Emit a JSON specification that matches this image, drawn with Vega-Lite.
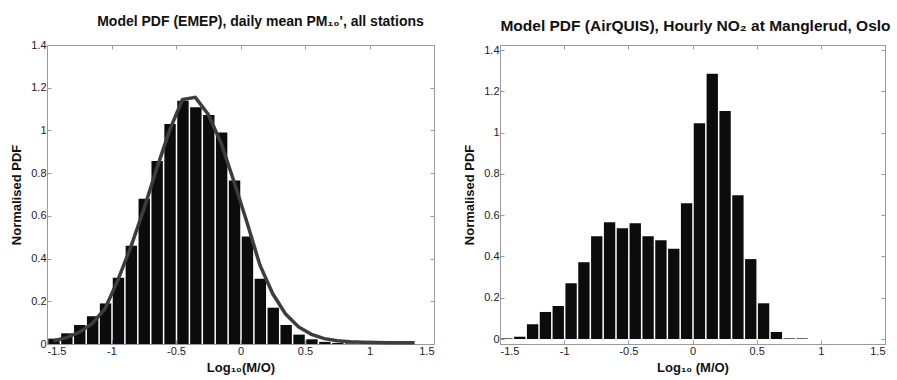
{
  "$schema": "https://vega.github.io/schema/vega-lite/v6.json",
  "padding": {"left": 10, "top": 15, "right": 2, "bottom": 2},
  "bounds": "flush",
  "spacing": 66,
  "config": {
    "font": "Liberation Sans",
    "view": {"stroke": null},
    "axis": {
      "grid": false,
      "domainColor": "#9a9a9a",
      "tickColor": "#9a9a9a",
      "labelColor": "#222222",
      "labelFontSize": 11,
      "labelFont": "Liberation Sans",
      "titleFont": "Liberation Sans",
      "titleFontSize": 13,
      "titleFontWeight": "bold",
      "titleColor": "#111111",
      "tickSize": -4,
      "labelPadding": 5,
      "labelExpr": "'' + datum.value"
    },
    "title": {"font": "Liberation Sans", "fontWeight": "bold", "color": "#111111", "anchor": "middle", "offset": 10}
  },
  "datasets": {
    "emepBars": [
      {"bin_start": -1.5, "bin_end": -1.4, "pdf": 0.025},
      {"bin_start": -1.4, "bin_end": -1.3, "pdf": 0.05},
      {"bin_start": -1.3, "bin_end": -1.2, "pdf": 0.089},
      {"bin_start": -1.2, "bin_end": -1.1, "pdf": 0.13},
      {"bin_start": -1.1, "bin_end": -1.0, "pdf": 0.19},
      {"bin_start": -1.0, "bin_end": -0.9, "pdf": 0.31},
      {"bin_start": -0.9, "bin_end": -0.8, "pdf": 0.46},
      {"bin_start": -0.8, "bin_end": -0.7, "pdf": 0.68},
      {"bin_start": -0.7, "bin_end": -0.6, "pdf": 0.857},
      {"bin_start": -0.6, "bin_end": -0.5, "pdf": 1.03},
      {"bin_start": -0.5, "bin_end": -0.4, "pdf": 1.139},
      {"bin_start": -0.4, "bin_end": -0.3, "pdf": 1.108},
      {"bin_start": -0.3, "bin_end": -0.2, "pdf": 1.072},
      {"bin_start": -0.2, "bin_end": -0.1, "pdf": 0.99},
      {"bin_start": -0.1, "bin_end": 0.0, "pdf": 0.765},
      {"bin_start": 0.0, "bin_end": 0.1, "pdf": 0.503},
      {"bin_start": 0.1, "bin_end": 0.2, "pdf": 0.306},
      {"bin_start": 0.2, "bin_end": 0.3, "pdf": 0.17},
      {"bin_start": 0.3, "bin_end": 0.4, "pdf": 0.089},
      {"bin_start": 0.4, "bin_end": 0.5, "pdf": 0.044},
      {"bin_start": 0.5, "bin_end": 0.6, "pdf": 0.022},
      {"bin_start": 0.6, "bin_end": 0.7, "pdf": 0.01},
      {"bin_start": 0.7, "bin_end": 0.8, "pdf": 0.005},
      {"bin_start": 0.8, "bin_end": 0.9, "pdf": 0.003},
      {"bin_start": 0.9, "bin_end": 1.0, "pdf": 0.002},
      {"bin_start": 1.0, "bin_end": 1.1, "pdf": 0.001}
    ],
    "emepCurve": [
      {"x": -1.45, "pdf": 0.015},
      {"x": -1.35, "pdf": 0.03},
      {"x": -1.25, "pdf": 0.055},
      {"x": -1.15, "pdf": 0.095},
      {"x": -1.05, "pdf": 0.165},
      {"x": -0.95, "pdf": 0.3},
      {"x": -0.85, "pdf": 0.455},
      {"x": -0.75, "pdf": 0.63},
      {"x": -0.65, "pdf": 0.82},
      {"x": -0.55, "pdf": 1.0},
      {"x": -0.45, "pdf": 1.145},
      {"x": -0.35, "pdf": 1.155},
      {"x": -0.25, "pdf": 1.075},
      {"x": -0.15, "pdf": 0.94},
      {"x": -0.05, "pdf": 0.76},
      {"x": 0.05, "pdf": 0.57},
      {"x": 0.15, "pdf": 0.37},
      {"x": 0.25, "pdf": 0.235},
      {"x": 0.35, "pdf": 0.14},
      {"x": 0.45, "pdf": 0.08},
      {"x": 0.55, "pdf": 0.045},
      {"x": 0.65, "pdf": 0.025},
      {"x": 0.75, "pdf": 0.015},
      {"x": 0.85, "pdf": 0.01},
      {"x": 0.95, "pdf": 0.008},
      {"x": 1.05, "pdf": 0.007},
      {"x": 1.15, "pdf": 0.006},
      {"x": 1.25, "pdf": 0.006},
      {"x": 1.35, "pdf": 0.006}
    ],
    "airquisBars": [
      {"bin_start": -1.5, "bin_end": -1.4, "pdf": 0.003},
      {"bin_start": -1.4, "bin_end": -1.3, "pdf": 0.011},
      {"bin_start": -1.3, "bin_end": -1.2, "pdf": 0.072},
      {"bin_start": -1.2, "bin_end": -1.1, "pdf": 0.131},
      {"bin_start": -1.1, "bin_end": -1.0, "pdf": 0.16},
      {"bin_start": -1.0, "bin_end": -0.9, "pdf": 0.27},
      {"bin_start": -0.9, "bin_end": -0.8, "pdf": 0.372},
      {"bin_start": -0.8, "bin_end": -0.7, "pdf": 0.498},
      {"bin_start": -0.7, "bin_end": -0.6, "pdf": 0.566},
      {"bin_start": -0.6, "bin_end": -0.5, "pdf": 0.536},
      {"bin_start": -0.5, "bin_end": -0.4, "pdf": 0.561},
      {"bin_start": -0.4, "bin_end": -0.3, "pdf": 0.498},
      {"bin_start": -0.3, "bin_end": -0.2, "pdf": 0.478},
      {"bin_start": -0.2, "bin_end": -0.1, "pdf": 0.437},
      {"bin_start": -0.1, "bin_end": 0.0, "pdf": 0.658},
      {"bin_start": 0.0, "bin_end": 0.1, "pdf": 1.045},
      {"bin_start": 0.1, "bin_end": 0.2, "pdf": 1.285},
      {"bin_start": 0.2, "bin_end": 0.3, "pdf": 1.105},
      {"bin_start": 0.3, "bin_end": 0.4, "pdf": 0.696},
      {"bin_start": 0.4, "bin_end": 0.5, "pdf": 0.387},
      {"bin_start": 0.5, "bin_end": 0.6, "pdf": 0.173},
      {"bin_start": 0.6, "bin_end": 0.7, "pdf": 0.034},
      {"bin_start": 0.7, "bin_end": 0.8, "pdf": 0.003},
      {"bin_start": 0.8, "bin_end": 0.9, "pdf": 0.003}
    ]
  },
  "hconcat": [
    {
      "title": {"text": "Model PDF (EMEP), daily mean PM₁₀', all stations", "dx": 20, "fontSize": 14},
      "width": 387,
      "height": 299,
      "resolve": {"axis": {"x": "independent", "y": "independent"}},
      "layer": [
        {
          "data": {"name": "emepBars"},
          "mark": {"type": "bar", "color": "#0c0c0c", "binSpacing": 1.5},
          "encoding": {
            "x": {"field": "bin_start", "type": "quantitative", "bin": {"binned": true, "step": 0.1},
              "scale": {"domain": [-1.5, 1.5], "nice": false, "zero": false},
              "axis": {"orient": "bottom", "values": [-1.5, -1, -0.5, 0, 0.5, 1, 1.5], "title": "Log₁₀(M/O)", "titlePadding": 5, "labelPadding": 5}},
            "x2": {"field": "bin_end"},
            "y": {"field": "pdf", "type": "quantitative",
              "scale": {"domain": [0, 1.4], "nice": false},
              "axis": {"orient": "left", "values": [0, 0.2, 0.4, 0.6, 0.8, 1, 1.2, 1.4], "title": "Normalised PDF", "titlePadding": 7}}
          }
        },
        {
          "data": {"name": "emepCurve"},
          "mark": {"type": "line", "color": "#3d3d3d", "strokeWidth": 3.5},
          "encoding": {
            "x": {"field": "x", "type": "quantitative",
              "axis": {"orient": "top", "values": [-1.5, -1, -0.5, 0, 0.5, 1, 1.5], "labels": false, "title": null}},
            "y": {"field": "pdf", "type": "quantitative",
              "axis": {"orient": "right", "values": [0, 0.2, 0.4, 0.6, 0.8, 1, 1.2, 1.4], "labels": false, "title": null}}
          }
        }
      ]
    },
    {
      "title": {"text": "Model PDF (AirQUIS), Hourly NO₂ at Manglerud, Oslo", "dx": 3, "fontSize": 15.5},
      "width": 385,
      "height": 299,
      "resolve": {"axis": {"x": "independent", "y": "independent"}},
      "layer": [
        {
          "data": {"name": "airquisBars"},
          "mark": {"type": "bar", "color": "#0c0c0c", "binSpacing": 1.5},
          "encoding": {
            "x": {"field": "bin_start", "type": "quantitative", "bin": {"binned": true, "step": 0.1},
              "scale": {"domain": [-1.5, 1.5], "nice": false, "zero": false},
              "axis": {"orient": "bottom", "values": [-1.5, -1, -0.5, 0, 0.5, 1, 1.5], "title": "Log₁₀ (M/O)", "titlePadding": 5, "labelPadding": 5}},
            "x2": {"field": "bin_end"},
            "y": {"field": "pdf", "type": "quantitative",
              "scale": {"domain": [0, 1.4], "nice": false},
              "axis": {"orient": "left", "values": [0, 0.2, 0.4, 0.6, 0.8, 1, 1.2, 1.4], "title": "Normalised PDF", "titlePadding": 7}}
          }
        },
        {
          "data": {"name": "airquisBars"},
          "mark": {"type": "bar", "opacity": 0},
          "encoding": {
            "x": {"field": "bin_start", "type": "quantitative",
              "axis": {"orient": "top", "values": [-1.5, -1, -0.5, 0, 0.5, 1, 1.5], "labels": false, "title": null}},
            "x2": {"field": "bin_end"},
            "y": {"field": "pdf", "type": "quantitative",
              "axis": {"orient": "right", "values": [0, 0.2, 0.4, 0.6, 0.8, 1, 1.2, 1.4], "labels": false, "title": null}}
          }
        }
      ]
    }
  ]
}
